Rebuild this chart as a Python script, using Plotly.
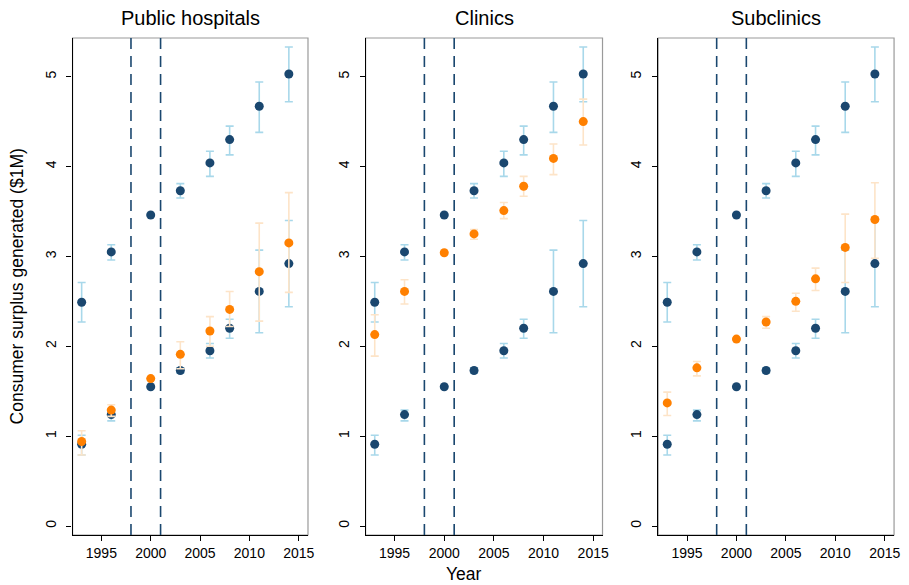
import plotly.graph_objects as go

years = [1993, 1996, 2000, 2003, 2006, 2008, 2011, 2014]

# Navy series (same in all panels)
navy_hi = [2.49, 3.05, 3.46, 3.73, 4.04, 4.30, 4.67, 5.03]
navy_hi_lo = [2.27, 2.96, 3.46, 3.65, 3.89, 4.13, 4.38, 4.72]
navy_hi_up = [2.71, 3.13, 3.46, 3.81, 4.17, 4.45, 4.94, 5.33]

navy_lo = [0.91, 1.24, 1.55, 1.73, 1.95, 2.20, 2.61, 2.92]
navy_lo_lo = [0.79, 1.17, 1.55, 1.70, 1.87, 2.09, 2.15, 2.44]
navy_lo_up = [1.01, 1.29, 1.55, 1.76, 2.03, 2.30, 3.07, 3.40]

# Orange series per panel
orange_pub = [0.94, 1.29, 1.64, 1.91, 2.17, 2.41, 2.83, 3.15]
orange_pub_lo = [0.79, 1.22, 1.64, 1.75, 2.00, 2.22, 2.28, 2.60]
orange_pub_up = [1.06, 1.35, 1.64, 2.05, 2.33, 2.61, 3.37, 3.71]

orange_cli = [2.13, 2.61, 3.04, 3.25, 3.51, 3.78, 4.09, 4.50]
orange_cli_lo = [1.89, 2.47, 3.04, 3.19, 3.42, 3.67, 3.91, 4.24]
orange_cli_up = [2.35, 2.74, 3.04, 3.30, 3.60, 3.89, 4.25, 4.75]

orange_sub = [1.37, 1.76, 2.08, 2.27, 2.50, 2.75, 3.10, 3.41]
orange_sub_lo = [1.23, 1.67, 2.08, 2.20, 2.39, 2.62, 2.71, 2.98]
orange_sub_up = [1.49, 1.83, 2.08, 2.33, 2.59, 2.87, 3.47, 3.82]

panel_titles = ["Public hospitals", "Clinics", "Subclinics"]
oranges = [(orange_pub, orange_pub_lo, orange_pub_up),
           (orange_cli, orange_cli_lo, orange_cli_up),
           (orange_sub, orange_sub_lo, orange_sub_up)]
policy_years = [1998, 2001]
y_ticks = [0, 1, 2, 3, 4, 5]
x_ticks = [1995, 2000, 2005, 2010, 2015]

NAVY = "#1a476f"
ORANGE = "#ff8000"
LBLUE = "#a8d8ea"
LORANGE = "#fde4c8"

OFF = 8  # page body margin
W, H = 909 - OFF, 585 - OFF
domains_px = [(73, 310), (368, 606.5), (662.5, 900)]
ytop, ybot = 38, 535


def px_x(p):
    return (p - OFF) / W


def px_y(p):
    return 1 - (p - OFF) / H


ydom = [px_y(ybot), px_y(ytop)]

fig = go.Figure()


def err(vals, lo, up):
    return dict(type="data", symmetric=False,
                array=[u - v for u, v in zip(up, vals)],
                arrayminus=[v - l for v, l in zip(vals, lo)])


for i in range(3):
    xa = "x" if i == 0 else f"x{i+1}"
    ya = "y" if i == 0 else f"y{i+1}"
    ov, ol, ou = oranges[i]
    for vals, lo, up, col, ecol in [
        (navy_hi, navy_hi_lo, navy_hi_up, NAVY, LBLUE),
        (navy_lo, navy_lo_lo, navy_lo_up, NAVY, LBLUE),
        (ov, ol, ou, ORANGE, LORANGE),
    ]:
        e = err(vals, lo, up)
        e.update(color=ecol, thickness=1.6, width=4)
        fig.add_trace(go.Scatter(x=years, y=vals, mode="markers", xaxis=xa, yaxis=ya,
                                 marker=dict(color=col, size=9, line=dict(width=0)),
                                 error_y=e, showlegend=False, hoverinfo="skip"))
    for py in policy_years:
        fig.add_shape(type="line", xref=xa, yref=f"{ya} domain", x0=py, x1=py, y0=0, y1=1,
                      line=dict(color=NAVY, width=1.6, dash="11px,7px"), layer="above")
    fig.add_shape(type="rect", xref=f"{xa} domain", yref=f"{ya} domain", x0=0, x1=1, y0=0, y1=1,
                  line=dict(color="#9a9a9a", width=1.2), layer="below")
    x0, x1 = domains_px[i]
    fig.add_annotation(text=panel_titles[i], x=px_x((x0 + x1) / 2), y=px_y(18),
                       xref="paper", yref="paper", showarrow=False,
                       font=dict(size=20, color="#000"), xanchor="center", yanchor="middle")
    axkey = "xaxis" if i == 0 else f"xaxis{i+1}"
    aykey = "yaxis" if i == 0 else f"yaxis{i+1}"
    fig.update_layout(**{
        axkey: dict(domain=[px_x(x0), px_x(x1)], range=[1992.08, 2015.94], anchor=ya,
                    tickvals=x_ticks, ticks="outside", ticklen=5, tickcolor="#000",
                    showline=True, linecolor="#000", linewidth=1.2, showgrid=False,
                    zeroline=False, tickfont=dict(size=14, color="#000")),
        aykey: dict(domain=ydom, range=[-0.10, 5.43], anchor=xa,
                    tickvals=y_ticks, ticks="outside", ticklen=5, tickcolor="#000",
                    showline=True, linecolor="#000", linewidth=1.2, showgrid=False,
                    zeroline=False, tickangle=-90, ticklabelstandoff=5,
                    tickfont=dict(size=14, color="#000")),
    })

fig.add_annotation(text="Consumer surplus generated ($1M)", x=px_x(18), y=0.5 * (ydom[0] + ydom[1]),
                   xref="paper", yref="paper", showarrow=False, textangle=-90,
                   font=dict(size=17.5, color="#000"), xanchor="center", yanchor="middle")
fig.add_annotation(text="Year", x=px_x(467), y=px_y(574), xref="paper", yref="paper",
                   showarrow=False, font=dict(size=17.5, color="#000"),
                   xanchor="center", yanchor="middle")

fig.update_layout(width=W, height=H, margin=dict(l=0, r=0, t=0, b=0),
                  paper_bgcolor="white", plot_bgcolor="white",
                  font=dict(family="Liberation Sans, Arial, sans-serif"))

fig.write_html("out.html")
